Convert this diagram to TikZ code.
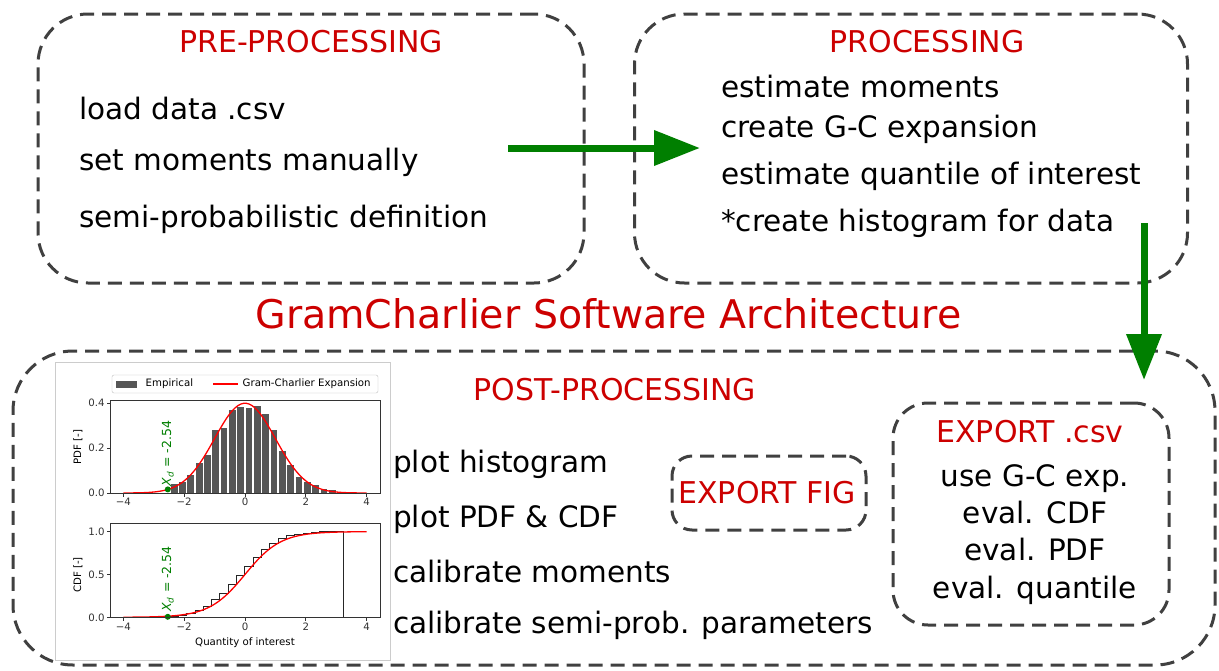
\documentclass[tikz,border=0pt]{standalone}
\usepackage{fontspec}
\setmainfont{DejaVu Sans}
\usetikzlibrary{arrows.meta}
\definecolor{headred}{HTML}{CC0000}
\definecolor{flowgreen}{HTML}{007F00}
\definecolor{dashgray}{HTML}{404040}
\definecolor{bargray}{HTML}{565656}

\begin{document}
\begin{tikzpicture}[x=1pt,y=-1pt,
  box/.style={draw=dashgray,line width=3pt,dash pattern=on 14pt off 8pt,rounded corners=#1,inner sep=0pt},
  head/.style={text=headred,font=\fontsize{30}{36}\selectfont,anchor=base,inner sep=0pt},
  item/.style={font=\fontsize{29.5}{35}\selectfont,anchor=base west,inner sep=0pt},
  flow/.style={draw=flowgreen,line width=7pt,-{Triangle[length=46pt,width=34pt]}},
  lab/.style={font=\fontsize{10.2}{12}\selectfont,inner sep=1.5pt},
  xdlab/.style={font=\fontsize{12.5}{14}\selectfont,inner sep=1pt,text=flowgreen,rotate=90,anchor=west},
  axis/.style={black!80,line width=.7pt}]
\useasboundingbox (0,0) rectangle (1219,670);
\node[box=50pt,minimum width=546pt,minimum height=269pt] (pre) at (311,148.5) {};
\node[box=50pt,minimum width=553pt,minimum height=269pt] (proc) at (911,148.5) {};
\node[box=60pt,minimum width=1202pt,minimum height=314pt] (post) at (614,508) {};
\node[box=20pt,minimum width=194pt,minimum height=74pt] (fig) at (769,493) {};
\node[box=35pt,minimum width=276pt,minimum height=222pt] (csv) at (1031,514) {};
\node[head] (preh) at (311,52) {PRE-PROCESSING}; \node[head] (proch) at (927,52) {PROCESSING};
\node[head] (posth) at (615,400) {POST-PROCESSING}; \node[head] (figh) at (767,503) {EXPORT FIG};
\node[head] (csvh) at (1030,442) {EXPORT .csv};
\node[text=headred,font=\fontsize{39.5}{46}\selectfont,anchor=base,inner sep=0pt] (title) at (608.5,328) {GramCharlier Software Architecture};
\node[item] (pre1) at (79,119) {load data .csv}; \node[item] (pre2) at (79,170) {set moments manually};
\node[item] (pre3) at (79,227) {semi-probabilistic definition};
\node[item] (proc1) at (721,97) {estimate moments}; \node[item] (proc2) at (721,137) {create G-C expansion};
\node[item] (proc3) at (721,184) {estimate quantile of interest}; \node[item] (proc4) at (721,231) {*create histogram for data};
\node[item] (post1) at (393,472) {plot histogram}; \node[item] (post2) at (393,527) {plot PDF \& CDF};
\node[item] (post3) at (393,582) {calibrate moments}; \node[item] (post4) at (393,633) {calibrate semi-prob. parameters};
\node[item,anchor=base] (csv1) at (1035,486) {use G-C exp.}; \node[item,anchor=base] (csv2) at (1035,523) {eval. CDF};
\node[item,anchor=base] (csv3) at (1035,560) {eval. PDF}; \node[item,anchor=base] (csv4) at (1035,598) {eval. quantile};
\coordinate (preout) at (508,148); \coordinate (procin) at (700,148); \draw[flow] (preout) -- (procin);
\coordinate (procout) at (1144,223); \coordinate (postin) at (1144,380); \draw[flow] (procout) -- (postin);
% inset figure
\draw[black!20,fill=white] (55,362) rectangle (390,660);
\draw[black!25,fill=white,rounded corners=2pt] (112,375) rectangle (378,393);
\fill[bargray] (116,381) rectangle (137,388); \node[lab,anchor=west] (leg1) at (144,384) {Empirical};
\draw[red,line width=1.3pt] (213,384) -- (238,384); \node[lab,anchor=west] (leg2) at (241,384) {Gram-Charlier Expansion};
\node[lab,rotate=90] (pdflab) at (78,447) {PDF [-]}; \node[lab,rotate=90] (cdflab) at (78,575) {CDF [-]};
\node[lab] (qlab) at (245,643) {Quantity of interest};
\begin{scope}[shift={(245,493)},x=30.4pt,y=225pt]
\foreach \h [count=\k from 0] in {.041,.051,.081,.132,.169,.279,.287,.368,.382,.378,.385,.349,.279,.188,.125,.071,.047,.037,.018,.012}
  \fill[bargray] ({-2.44+\k*.274},0) rectangle ++(.22,\h);
\draw[red,line width=1.3pt] plot[domain=-4:4,samples=90,smooth] (\x,{exp(-\x*\x/2)/2.5066});
\fill[flowgreen] (-2.54,.016) circle (3pt);
\node[xdlab] (xd1) at (-2.54,.024) {\textit{X}\textsubscript{\textit{d}} = -2.54};
\draw[axis] (-4.44,0) rectangle (4.44,.41);
\foreach \t/\s [count=\k] in {-4/−4,-2/−2,0/0,2/2,4/4} \draw[axis] (\t,0) -- ++(0pt,-3.5pt) node[lab,below] (pdfx\k) {\s};
\foreach \v [count=\k] in {0.0,0.2,0.4} \draw[axis] (-4.44,\v) -- ++(-3.5pt,0pt) node[lab,left] (pdfy\k) {\v};
\end{scope}
\begin{scope}[shift={(245,617.3)},x=30.4pt,y=85.7pt]
\draw[black!85,line width=.8pt] (-2.47,0) \foreach \c [count=\k] in {.011,.025,.047,.083,.129,.204,.283,.383,.486,.589,.694,.789,.864,.916,.950,.969,.982,.992,.997,1.0} { |- ({-2.47+\k*.274},\c) } -- (3.23,1) -- (3.23,0);
\draw[red,line width=1.3pt] plot[domain=-4:4,samples=90,smooth] (\x,{1/(1+exp(-1.702*\x))});
\fill[flowgreen] (-2.54,.006) circle (3pt);
\node[xdlab] (xd2) at (-2.54,.05) {\textit{X}\textsubscript{\textit{d}} = -2.54};
\draw[axis] (-4.44,0) rectangle (4.44,1.1);
\foreach \t/\s [count=\k] in {-4/−4,-2/−2,0/0,2/2,4/4} \draw[axis] (\t,0) -- ++(0pt,-3.5pt) node[lab,below] (cdfx\k) {\s};
\foreach \v [count=\k] in {0.0,0.5,1.0} \draw[axis] (-4.44,\v) -- ++(-3.5pt,0pt) node[lab,left] (cdfy\k) {\v};
\end{scope}
\end{tikzpicture}
\end{document}
